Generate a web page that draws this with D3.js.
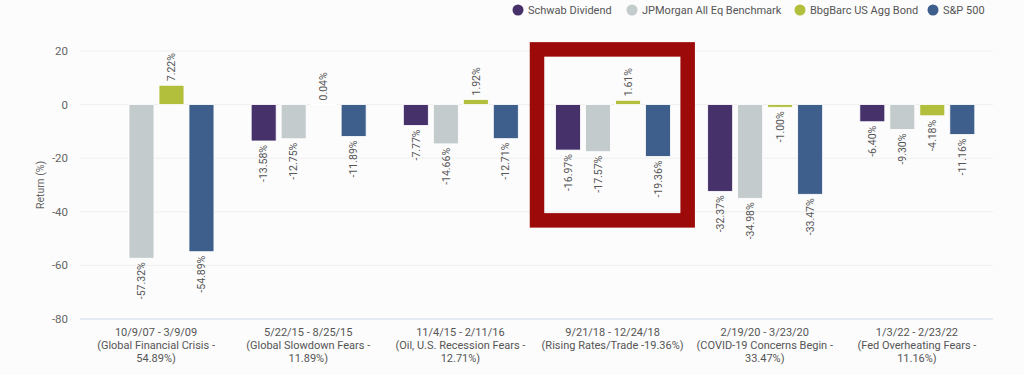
<!DOCTYPE html>
<html><head><meta charset="utf-8">
<script src="https://cdn.jsdelivr.net/npm/d3@7"></script>
<style>
html,body{margin:0;padding:0;background:#fcfcfc;}
svg{display:block;font-family:Roboto,"Noto Sans",sans-serif;}
</style></head>
<body>
<svg id="chart" width="1024" height="375"></svg>
<script>
const categories = [
  ["10/9/07 - 3/9/09", "(Global Financial Crisis -", "54.89%)"],
  ["5/22/15 - 8/25/15", "(Global Slowdown Fears -", "11.89%)"],
  ["11/4/15 - 2/11/16", "(Oil, U.S. Recession Fears -", "12.71%)"],
  ["9/21/18 - 12/24/18", "(Rising Rates/Trade -19.36%)"],
  ["2/19/20 - 3/23/20", "(COVID-19 Concerns Begin -", "33.47%)"],
  ["1/3/22 - 2/23/22", "(Fed Overheating Fears -", "11.16%)"]
];
const seriesNames = ["Schwab Dividend", "JPMorgan All Eq Benchmark", "BbgBarc US Agg Bond", "S&P 500"];
const schwabDividend = [null, -13.58, -7.77, -16.97, -32.37, -6.40];
const jpmBenchmark = [-57.32, -12.75, -14.66, -17.57, -34.98, -9.30];
const bbgAggBond = [7.22, 0.04, 1.92, 1.61, -1.00, -4.18];
const sp500 = [-54.89, -11.89, -12.71, -19.36, -33.47, -11.16];
const yTicks = [20, 0, -20, -40, -60, -80];
const highlightIndex = 3;

(function () {
const colors = ["#46316a", "#c3cbcc", "#b2bf3d", "#3e5e8b"];
const allSeries = [schwabDividend, jpmBenchmark, bbgAggBond, sp500];

const svg = d3.select("#chart");
const pLeft = 80, pRight = 993, pTop = 51, pBottom = 319;

const y = d3.scaleLinear().domain([-80, 20]).range([pBottom, pTop]);
const x0 = d3.scaleBand().domain(d3.range(categories.length)).range([pLeft, pRight]).paddingInner(0).paddingOuter(0);
const x1 = d3.scaleBand().domain(d3.range(seriesNames.length)).range([19, x0.bandwidth() - 18.2]).paddingInner(0.167).paddingOuter(0);

// gridlines
svg.append("g").selectAll("line").data(yTicks).join("line")
  .attr("x1", pLeft).attr("x2", pRight)
  .attr("y1", d => y(d)).attr("y2", d => y(d))
  .attr("stroke", d => d === -80 ? "#dfe5ef" : "#efefef")
  .attr("stroke-width", d => d === -80 ? 1.5 : 1);

// y labels
svg.append("g").selectAll("text").data(yTicks).join("text")
  .attr("x", 68).attr("y", d => y(d)).attr("dy", "0.35em")
  .attr("text-anchor", "end").attr("font-size", 11.5).attr("fill", "#666")
  .text(d => d);

svg.append("text")
  .attr("transform", `translate(44,${(pTop + pBottom) / 2}) rotate(-90)`)
  .attr("text-anchor", "middle").attr("font-size", 10.5).attr("fill", "#666")
  .text("Return (%)");

// bars
const groups = svg.append("g").selectAll("g").data(categories).join("g")
  .attr("transform", (d, i) => `translate(${x0(i)},0)`);

groups.each(function (c, gi) {
  const g = d3.select(this);
  const vals = allSeries.map((s, si) => ({ si, v: s[gi] })).filter(d => d.v !== null);
  g.selectAll("rect").data(vals).join("rect")
    .attr("x", d => x1(d.si))
    .attr("width", x1.bandwidth())
    .attr("y", d => Math.min(y(d.v), y(0)))
    .attr("height", d => Math.max(Math.abs(y(d.v) - y(0)), 0.5))
    .attr("fill", d => colors[d.si])
    .attr("stroke", "#ffffff").attr("stroke-width", 0.8);
  g.selectAll("text.dl").data(vals).join("text")
    .attr("class", "dl")
    .attr("transform", d => {
      const cx = x1(d.si) + x1.bandwidth() / 2;
      const cy = d.v >= 0 ? y(d.v) - 4 : y(d.v) + 4;
      return `translate(${cx},${cy}) rotate(-90)`;
    })
    .attr("text-anchor", d => d.v >= 0 ? "start" : "end")
    .attr("dy", "0.35em")
    .attr("font-size", 10.5).attr("fill", "#555")
    .text(d => d.v.toFixed(2) + "%");
  const t = g.append("text").attr("text-anchor", "middle").attr("font-size", 11).attr("fill", "#555");
  c.forEach((line, li) => {
    t.append("tspan").attr("x", x0.bandwidth() / 2).attr("y", 336 + li * 12.8).text(line);
  });
});

// highlight box
svg.append("rect")
  .attr("x", x0(highlightIndex) + 0.5)
  .attr("y", y(20.6))
  .attr("width", x0.bandwidth() - 1.5)
  .attr("height", y(-43.2) - y(20.6))
  .attr("fill", "none").attr("stroke", "#9c0a0a").attr("stroke-width", 14.5);

// legend
const legendX = [518, 632, 800, 933];
const lg = svg.append("g").selectAll("g").data(seriesNames).join("g")
  .attr("transform", (d, i) => `translate(${legendX[i]},10)`);
lg.append("circle").attr("r", 5.5).attr("fill", (d, i) => colors[i]);
lg.append("text").attr("x", 10).attr("dy", "0.35em").attr("font-size", 11).attr("fill", "#555").text(d => d);
})();
</script>
</body></html>
